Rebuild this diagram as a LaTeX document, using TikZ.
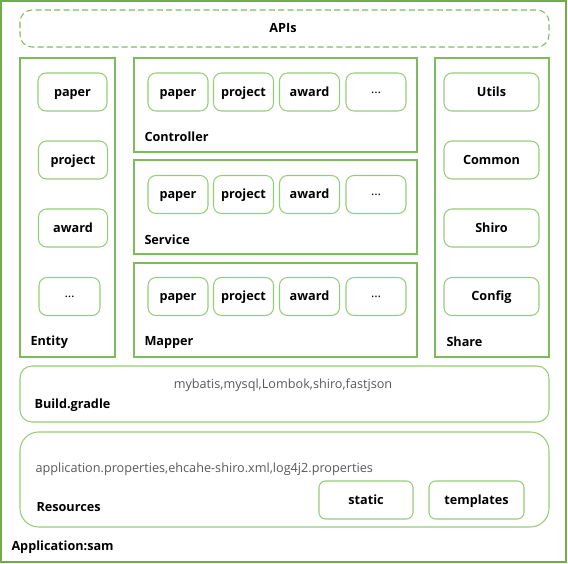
\documentclass[tikz,border=0pt]{standalone}
\usepackage{fontspec}
\setmainfont{Open Sans}
\usetikzlibrary{positioning}
\definecolor{framegreen}{RGB}{112,173,71}
\definecolor{boxgreen}{RGB}{125,188,92}
\definecolor{itemgreen}{RGB}{150,204,120}
\definecolor{depgray}{RGB}{89,89,89}
\tikzset{every picture/.style={line width=0.75pt}}

\begin{document}
\begin{tikzpicture}[x=0.75pt,y=0.75pt,yscale=-1,
  groupbox/.style={draw=boxgreen, line width=0.8pt},
  roundbox/.style={draw=itemgreen, line width=0.8pt, rounded corners=9pt},
  itembox/.style={draw=itemgreen, line width=0.8pt, rounded corners=6pt,
    minimum width=45pt, minimum height=28.5pt, inner sep=0pt,
    text height=1.6ex, text depth=0.45ex,
    font=\fontsize{9.5}{11}\selectfont\bfseries},
  wideitem/.style={itembox, minimum width=51.75pt},
  shareitem/.style={itembox, minimum width=71.25pt},
  grouplabel/.style={anchor=west, inner sep=0.75pt, font=\fontsize{9.5}{11}\selectfont\bfseries},
  deptext/.style={inner sep=0.75pt, text=depgray, font=\fontsize{9.5}{11}\selectfont}]
\useasboundingbox (0,0) rectangle (568,564);

%Shape: Rectangle [id:application]
\draw [draw=framegreen, line width=1pt] (1,1) rectangle (566,562);
%Shape: Rounded Rect [id:apis]
\draw [draw=boxgreen, line width=0.8pt, dash pattern=on 4.5pt off 2.5pt, rounded corners=9pt] (20,10) rectangle (549,47);

%Shape: Rectangle [id:entity]
\draw [groupbox] (20,58) rectangle (115,357);
%Shape: Rectangle [id:controller]
\draw [groupbox] (134,58) rectangle (417,152);
%Shape: Rectangle [id:service]
\draw [groupbox] (134,160) rectangle (417,254);
%Shape: Rectangle [id:mapper]
\draw [groupbox] (134,263) rectangle (417,357);
%Shape: Rectangle [id:share]
\draw [groupbox] (435,58) rectangle (549,357);
%Shape: Rounded Rect [id:gradle]
\draw [roundbox] (20,366) rectangle (549,422);
%Shape: Rounded Rect [id:resources]
\draw [roundbox, rounded corners=14pt] (20,432) rectangle (549,527);

% Entity
\node [wideitem] (entPaper) at (72.5,92) {paper};
\node [wideitem] (entProject) at (73,160) {project};
\node [wideitem] (entAward) at (73,228) {award};
\node [itembox, minimum width=45.75pt] (entMore) at (69.5,296.5) {\raisebox{2pt}{\mdseries …}};

% Controller
\node [itembox] (ctlPaper) at (178,92) {paper};
\node [itembox] (ctlProject) at (243.5,92) {project};
\node [itembox] (ctlAward) at (309.5,92) {award};
\node [itembox] (ctlMore) at (376,92) {\raisebox{2pt}{\mdseries …}};

% Service
\node [itembox] (srvPaper) at (178,194.5) {paper};
\node [itembox] (srvProject) at (243.5,194.5) {project};
\node [itembox] (srvAward) at (309.5,194.5) {award};
\node [itembox] (srvMore) at (376,194.5) {\raisebox{2pt}{\mdseries …}};

% Mapper
\node [itembox] (mapPaper) at (178,296.5) {paper};
\node [itembox] (mapProject) at (243.5,296.5) {project};
\node [itembox] (mapAward) at (309.5,296.5) {award};
\node [itembox] (mapMore) at (376,296.5) {\raisebox{2pt}{\mdseries …}};

% Share
\node [shareitem] (shrUtils) at (491.5,92) {Utils};
\node [shareitem] (shrCommon) at (491.5,160) {Common};
\node [shareitem] (shrShiro) at (491.5,228) {Shiro};
\node [shareitem] (shrConfig) at (491.5,296.5) {Config};

% Resources
\node [shareitem, minimum width=70.5pt, rounded corners=5pt] (resStatic) at (366,500) {static};
\node [shareitem, rounded corners=5pt] (resTemplates) at (476.5,500) {templates};

% Text Node
\node [inner sep=0.75pt, font=\fontsize{9.5}{11}\selectfont\bfseries] (apisLabel) at (283,28) {APIs};
\node [grouplabel] (entityLabel) at (29,342) {Entity};
\node [grouplabel] (controllerLabel) at (143,137) {Controller};
\node [grouplabel] (serviceLabel) at (143,240) {Service};
\node [grouplabel] (mapperLabel) at (143,342) {Mapper};
\node [grouplabel] (shareLabel) at (445,342) {Share};
\node [grouplabel] (gradleLabel) at (33,405) {Build.gradle};
\node [grouplabel] (resourcesLabel) at (35,507) {Resources};
\node [grouplabel] (appLabel) at (10,547) {Application:sam};
\node [deptext] (gradleDeps) at (283,385) {mybatis,mysql,Lombok,shiro,fastjson};
\node [deptext, anchor=west] (resFiles) at (34,469) {application.properties,ehcahe-shiro.xml,log4j2.properties};

\end{tikzpicture}
\end{document}
